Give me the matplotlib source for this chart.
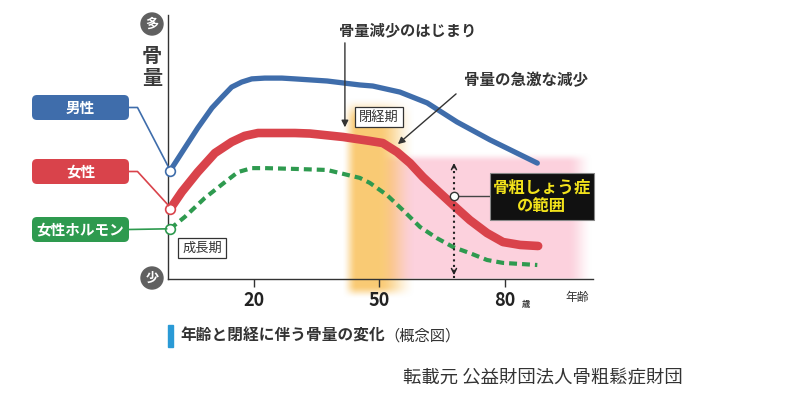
import numpy as np
import matplotlib
matplotlib.use("Agg")
import matplotlib.pyplot as plt
from matplotlib.patches import FancyBboxPatch, Rectangle, Circle

plt.rcParams['font.family'] = ['Noto Sans CJK JP', 'DejaVu Sans']

# 骨量の推移 (概念図, 読み取り値)
age_male = [0, 3.5, 6.6, 10.0, 12.4, 14.7, 17.1, 19.5, 22.6, 26.7, 29.8, 37.5, 45.3, 48.4,
            54.9, 61.4, 68.5, 76.4, 87.7]
bone_male = [41.0, 49.6, 57.2, 64.8, 68.9, 72.7, 74.6, 75.8, 76.1, 76.1, 75.8, 75.0, 73.5, 73.1,
             70.8, 66.7, 59.5, 52.7, 43.9]

age_female = [0, 2.8, 6.6, 10.7, 14.7, 17.8, 21.0, 25.0, 29.8, 33.4, 41.3, 47.7, 50.8, 54.2,
              57.3, 60.4, 63.7, 67.6, 71.6, 75.7, 79.5, 83.6, 87.9]
bone_female = [26.5, 33.0, 40.5, 47.7, 51.9, 54.2, 55.3, 55.3, 55.3, 55.1, 53.8, 52.3, 51.5, 48.1,
               43.9, 38.6, 33.7, 28.0, 22.3, 17.4, 14.0, 12.9, 12.5]

age_hormone = [0, 3.5, 8.3, 13.1, 16.2, 19.5, 22.6, 29.8, 37.5, 45.3, 47.7, 51.8, 55.6, 59.7,
               63.7, 67.6, 71.6, 75.7, 79.5, 87.7]
level_hormone = [19.0, 23.5, 30.7, 36.7, 40.5, 42.0, 42.0, 41.7, 41.3, 38.3, 36.4, 31.8, 26.1, 19.7,
                 15.5, 12.1, 9.8, 7.2, 6.1, 5.3]

tick_ages = [20, 50, 80]
tick_labels = ['20', '50', '80']

menopause = (41.0, 58.5)        # 閉経期
osteo_age = 67.8                # 骨粗しょう症の範囲の矢印
osteo_level = (45.0, 0.4)

c_male = '#3f6dab'
c_female = '#d9434b'
c_horm = '#2e9a4f'
c_text = '#333333'


def smooth(t):
    t = np.clip(t, 0, 1)
    return t * t * (3 - 2 * t)


def soft_rect(ax, x0, x1, y0, y1, wl, wr, wb, wt, rgb, amax, z):
    xs = np.linspace(x0, x1, 400)
    ys = np.linspace(y0, y1, 300)
    ax_ = smooth((xs - x0) / wl) * smooth((x1 - xs) / wr)
    ay_ = smooth((ys - y0) / wb) * smooth((y1 - ys) / wt)
    img = np.zeros((len(ys), len(xs), 4))
    img[..., :3] = rgb
    img[..., 3] = amax * np.outer(ay_, ax_)
    im = ax.imshow(img, extent=(x0, x1, y0, y1), origin='lower', aspect='auto',
                   interpolation='bilinear', zorder=z)
    im.set_clip_on(False)


fig = plt.figure(figsize=(8, 3.99), dpi=100)
ax = fig.add_axes([168 / 800, (399 - 279) / 399, 425 / 800, 264 / 399])
ax.set_xlim(-0.5, 101)
ax.set_ylim(0, 100)

# 背景の帯
soft_rect(ax, 50, 101, 0, 48, 3, 6, 0.01, 4, (0.99, 0.82, 0.87), 1.0, 0)
soft_rect(ax, menopause[0], menopause[1], -7.5, 69, 3.5, 9, 5, 9, (0.98, 0.76, 0.36), 0.85, 1)

ax.plot(age_male, bone_male, color=c_male, lw=3.8, solid_capstyle='round', solid_joinstyle='round', zorder=3)
ax.plot(age_female, bone_female, color=c_female, lw=6.2, solid_capstyle='round', solid_joinstyle='round', zorder=3)
ax.plot(age_hormone, level_hormone, color=c_horm, lw=3, ls=(0, (1.9, 1.2)), zorder=3)

for a, v, c in [(age_male, bone_male, c_male), (age_female, bone_female, c_female),
                (age_hormone, level_hormone, c_horm)]:
    ax.plot(a[0], v[0], 'o', ms=7, mfc='white', mec=c, mew=1.2, zorder=5, clip_on=False)

for s in ['top', 'right']:
    ax.spines[s].set_visible(False)
for s in ['left', 'bottom']:
    ax.spines[s].set_color('#333333')
    ax.spines[s].set_linewidth(1.0)
ax.set_yticks([])
ax.set_xticks(tick_ages)
ax.set_xticklabels(tick_labels, fontsize=13, fontweight='bold', color='#222222')
ax.tick_params(axis='x', length=6, width=1, color='#333333', pad=3)
ax.patch.set_alpha(0)

# 骨粗しょう症の範囲
ax.plot([osteo_age, osteo_age], [osteo_level[1], osteo_level[0] - 1], ls=':', lw=1.5, color='#222222', zorder=4)
ax.annotate('', xy=(osteo_age, osteo_level[0]), xytext=(osteo_age, osteo_level[0] - 4),
            arrowprops=dict(arrowstyle='->', lw=1.1, color='#222222', mutation_scale=9), zorder=4)
ax.annotate('', xy=(osteo_age, osteo_level[1]), xytext=(osteo_age, osteo_level[1] + 4),
            arrowprops=dict(arrowstyle='->', lw=1.1, color='#222222', mutation_scale=9), zorder=4)
ax.plot([osteo_age, 76.4], [31.4, 31.4], color='#444444', lw=1, zorder=4)
ax.plot(osteo_age, 31.4, 'o', ms=6, mfc='white', mec='#333333', mew=1, zorder=5)

# 注釈の矢印
ax.annotate('', xy=(41.75, 56.4), xytext=(41.75, 90.5),
            arrowprops=dict(arrowstyle='-|>', lw=1, color='#333333', mutation_scale=10), annotation_clip=False)
ax.annotate('', xy=(53.9, 50.4), xytext=(68.8, 70.8),
            arrowprops=dict(arrowstyle='-|>', lw=1, color='#333333', mutation_scale=10), annotation_clip=False)

# ピクセル座標の重ね合わせ
ov = fig.add_axes([0, 0, 1, 1])
ov.set_xlim(0, 800)
ov.set_ylim(399, 0)
ov.axis('off')


def to_ov(x, y):
    d = ax.transData.transform((x, y))
    return ov.transData.inverted().transform(d)


labels = [('男性', c_male, 95, age_male, bone_male),
          ('女性', c_female, 159, age_female, bone_female),
          ('女性ホルモン', c_horm, 217, age_hormone, level_hormone)]
for txt, c, top, a, v in labels:
    ov.add_patch(FancyBboxPatch((32, top), 97, 25, boxstyle='round,pad=0,rounding_size=5',
                                fc=c, ec='none'))
    ov.text(80.5, top + 12.5, txt, color='white', fontsize=10.5, fontweight='bold',
            ha='center', va='center')
    px, py = to_ov(a[0], v[0])
    ym = top + 12.5
    if txt == '女性ホルモン':
        ov.plot([129, px - 3.5], [ym, py], color=c, lw=1.2)
    else:
        ov.plot([129, 137.5, px - 1.5], [ym, ym, py - 3.5], color=c, lw=1.2)

# 多・少
for y, t in [(24, '多'), (278, '少')]:
    ov.add_patch(Circle((152, y), 11, color='#606060'))
    ov.text(152, y, t, color='white', fontsize=9.5, fontweight='bold', ha='center', va='center')
ov.text(152, 56, '骨', fontsize=14.5, fontweight='bold', color='#3a3a3a', ha='center', va='center')
ov.text(152, 77, '量', fontsize=14.5, fontweight='bold', color='#3a3a3a', ha='center', va='center')

# 期間の枠
ov.text(202, 248, '成長期', fontsize=9.5, color=c_text, ha='center', va='center',
        bbox=dict(boxstyle='square,pad=0.3', fc='white', ec='#333333', lw=0.9))
ov.text(379, 117, '閉経期', fontsize=9.5, color=c_text, ha='center', va='center',
        bbox=dict(boxstyle='square,pad=0.3', fc='white', ec='#333333', lw=0.9))

ov.text(408, 30, '骨量減少のはじまり', fontsize=11, fontweight='bold', color=c_text, ha='center', va='center')
ov.text(526, 80, '骨量の急激な減少', fontsize=11.2, fontweight='bold', color=c_text, ha='center', va='center')

# 骨粗しょう症の枠
ov.add_patch(Rectangle((490, 173), 104, 47, fc='#111111', ec='#888888', lw=0.8, zorder=5))
ov.text(542, 197, '骨粗しょう症\nの範囲', fontsize=11.8, fontweight='bold', color='#f2e21b',
        ha='center', va='center', linespacing=1.0, zorder=6)

ov.text(526, 305, '歳', fontsize=6, fontweight='bold', color=c_text, ha='center', va='center')
ov.text(577, 298, '年齢', fontsize=8.5, color=c_text, ha='center', va='center')

# タイトル
ov.add_patch(Rectangle((168, 325), 5, 22, color='#2a9ad6'))
t1 = ov.text(180, 336, '年齢と閉経に伴う骨量の変化', fontsize=11.3, fontweight='bold',
             color=c_text, ha='left', va='center')
ov.annotate('（概念図）', xy=(1, 0.5), xycoords=t1, fontsize=11, color=c_text,
            ha='left', va='center')

ov.text(403, 377, '転載元 公益財団法人骨粗鬆症財団', fontsize=13.2, color='#333333',
        ha='left', va='center')

fig.savefig('out.png', dpi=100)
